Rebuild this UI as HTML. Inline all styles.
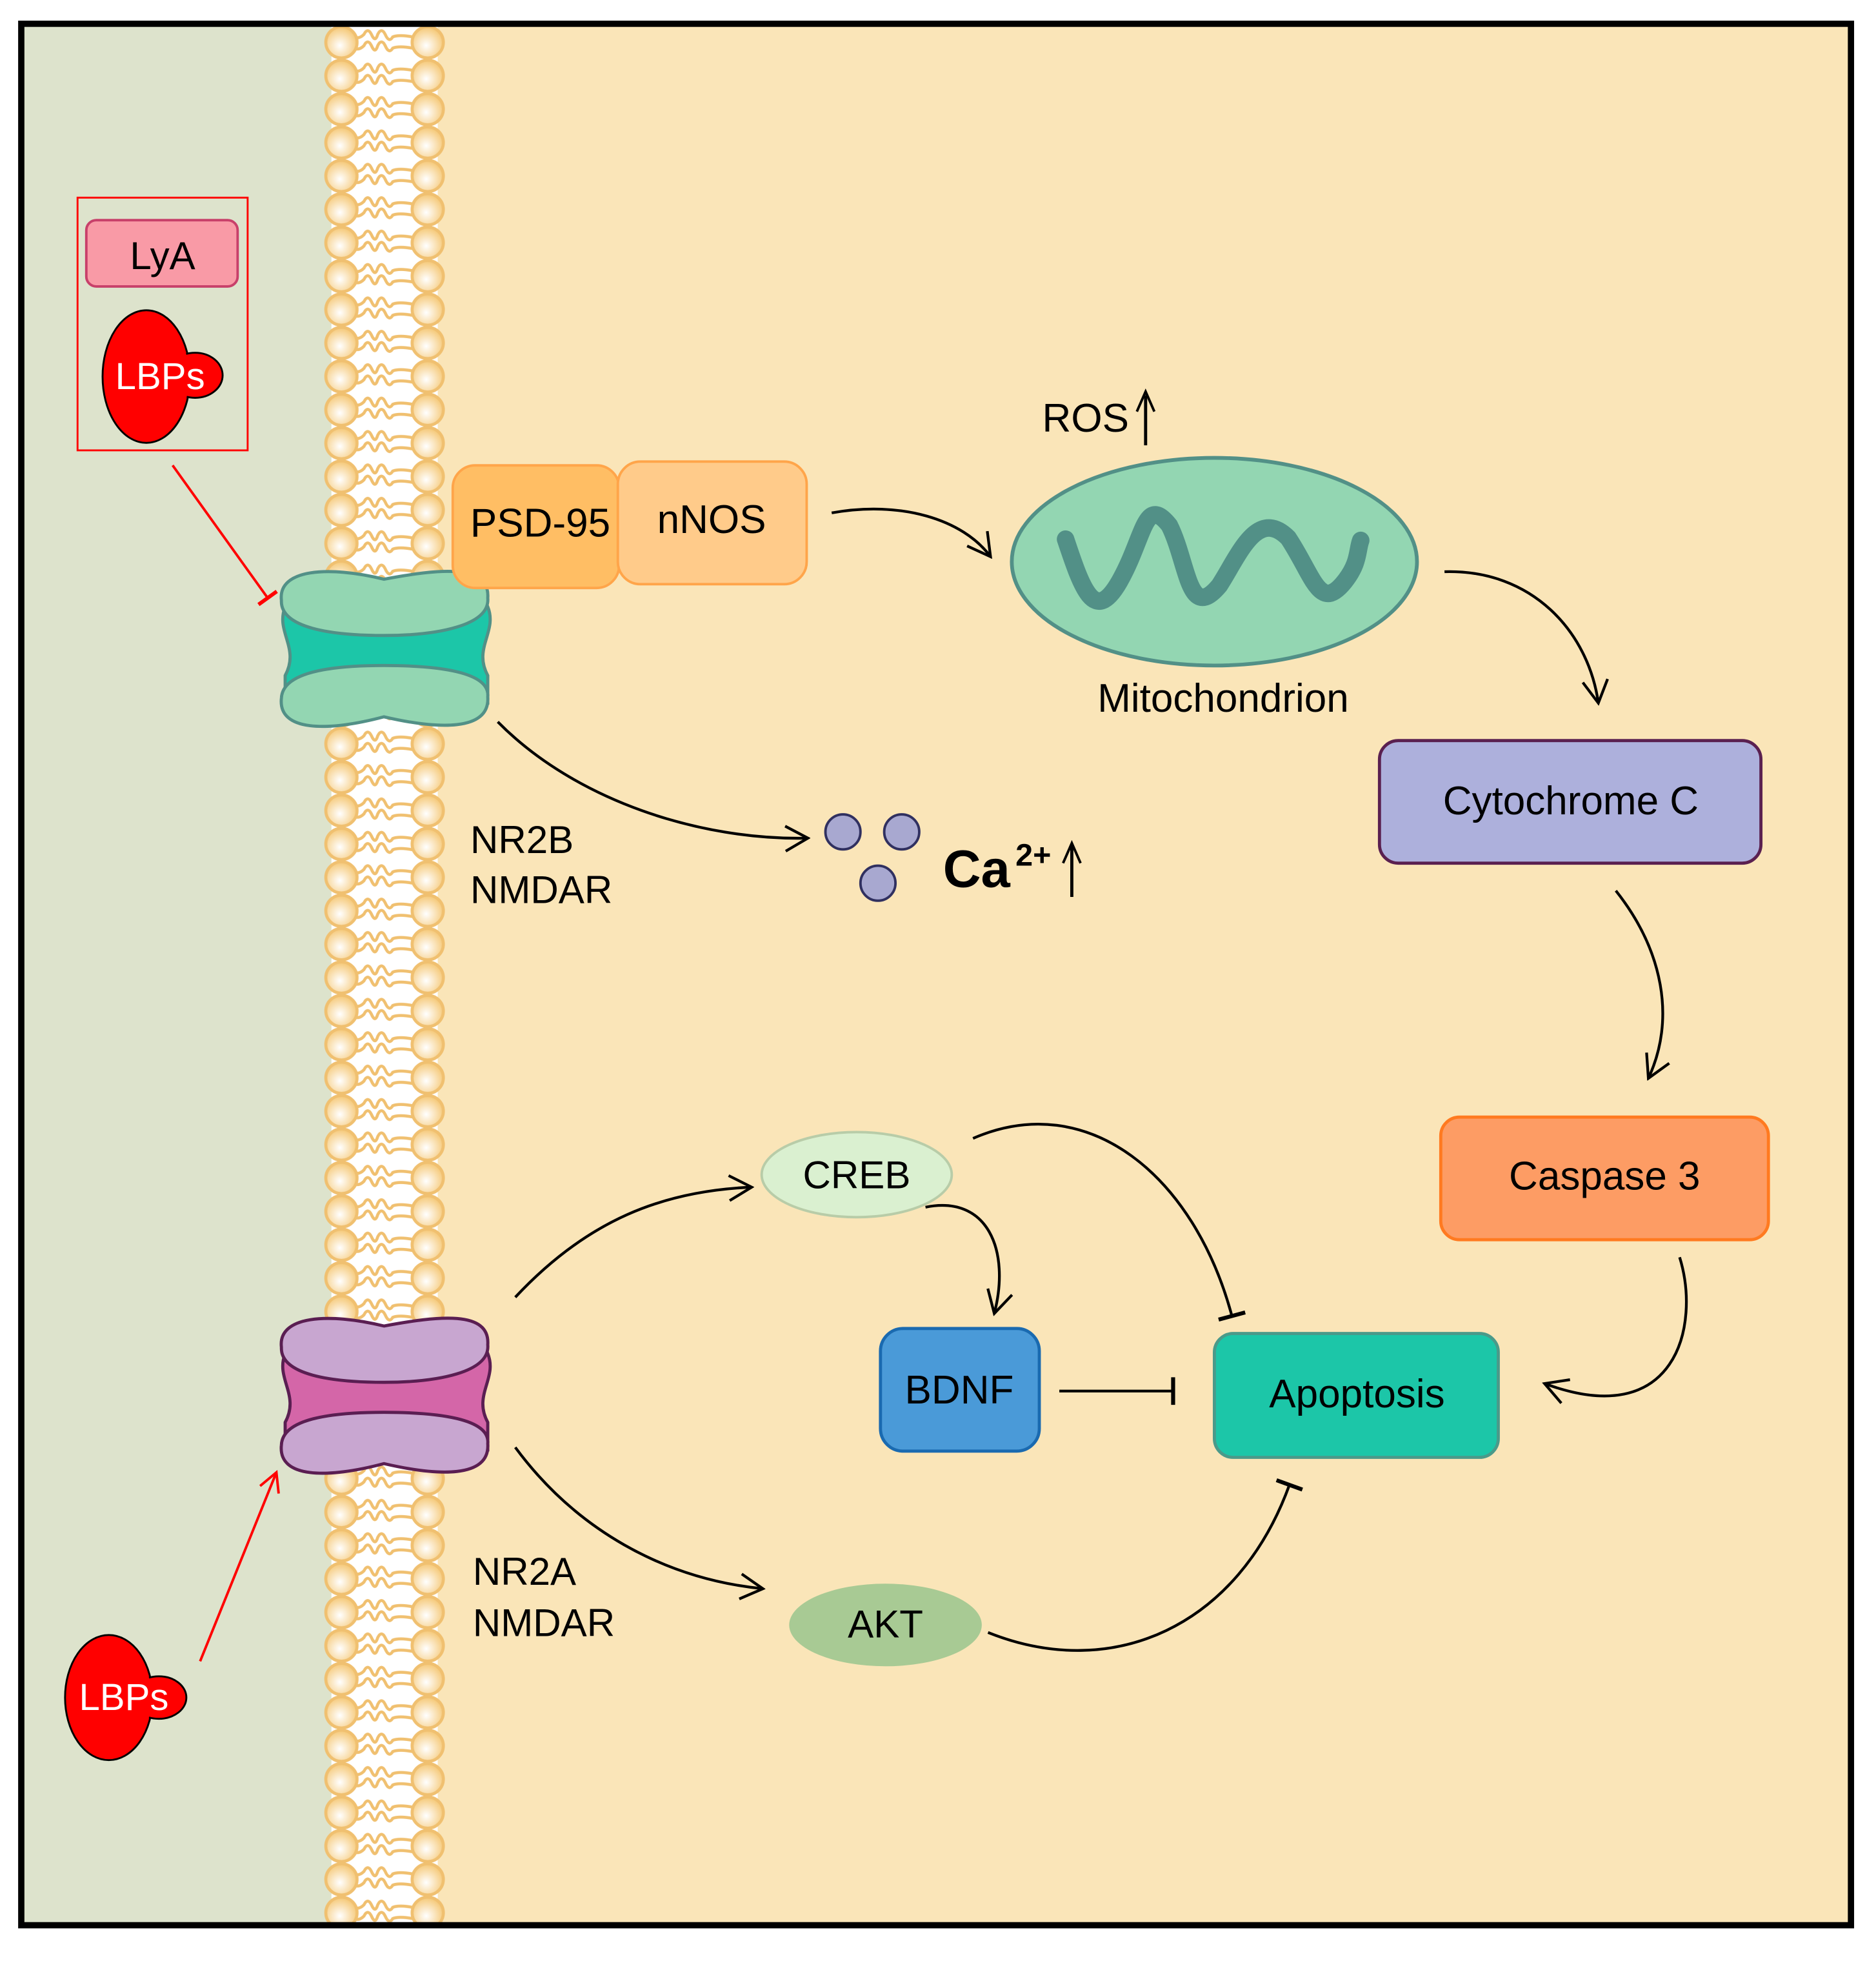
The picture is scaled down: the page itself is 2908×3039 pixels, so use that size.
<!DOCTYPE html>
<html><head><meta charset="utf-8"><style>html,body{margin:0;padding:0;background:#fff}svg{display:block}</style></head>
<body>
<svg width="2908" height="3039" viewBox="0 0 1500 1567.6" xmlns="http://www.w3.org/2000/svg" font-family="Liberation Sans, sans-serif">
<defs>
<radialGradient id="bg" cx="0.45" cy="0.6" r="0.6"><stop offset="0" stop-color="#ffffff"/><stop offset="1" stop-color="#f5c774"/></radialGradient>
<pattern id="mem" x="258" y="20.5" width="100" height="26.7" patternUnits="userSpaceOnUse">
<path d="M25,9 q4,2 8,-2 q3,-6 6,0 q3,7 5,0 q3,-6 6,0 q3,7 6,2 q5,-2 16,0" fill="none" stroke="#f0c070" stroke-width="2.4"/>
<path d="M25,18 q4,2 8,-2 q3,-6 6,0 q3,7 5,0 q3,-6 6,0 q3,7 6,2 q5,-2 16,0" fill="none" stroke="#f0c070" stroke-width="2.4"/>
<circle cx="15" cy="13.35" r="12.5" fill="url(#bg)" stroke="#f0c070" stroke-width="2.4"/>
<circle cx="84" cy="13.35" r="12.5" fill="url(#bg)" stroke="#f0c070" stroke-width="2.4"/>
</pattern>
<marker id="ar" viewBox="-20 -12 22 24" markerWidth="22" markerHeight="24" refX="0" refY="0" orient="auto" markerUnits="userSpaceOnUse"><path d="M-18,-10 L0,0 L-18,10" fill="none" stroke="#000" stroke-width="2.2"/></marker>
<marker id="arr" viewBox="-20 -12 22 24" markerWidth="22" markerHeight="24" refX="0" refY="0" orient="auto" markerUnits="userSpaceOnUse"><path d="M-15,-8 L0,0 L-15,8" fill="none" stroke="#f00" stroke-width="2"/></marker>
<marker id="tb" viewBox="-2 -12 4 24" markerWidth="4" markerHeight="24" refX="0" refY="0" orient="auto" markerUnits="userSpaceOnUse"><path d="M0,-11 L0,11" stroke="#000" stroke-width="3.2"/></marker>
<marker id="tbr" viewBox="-2 -10 4 20" markerWidth="4" markerHeight="20" refX="0" refY="0" orient="auto" markerUnits="userSpaceOnUse"><path d="M0,-9 L0,9" stroke="#f00" stroke-width="3"/></marker>
</defs>
<rect x="17" y="19" width="1463" height="1520" fill="#fae5b8"/>
<rect x="17" y="19" width="248" height="1520" fill="#dde3cc"/>
<rect x="265" y="19" width="85" height="1520" fill="#fff"/>
<rect x="258" y="21" width="100" height="1516" fill="url(#mem)"/>
<rect x="17" y="19" width="1463" height="1520" fill="none" stroke="#000" stroke-width="5"/>

<!-- receptor 1 -->
<g stroke="#529087" stroke-width="2.5">
<path d="M228,485 C220,505 240,518 228,540 L228,562 L390,562 L390,540 C378,518 398,505 390,485 Z" fill="#1cc6a8"/>
<path d="M225,480 C222,455 262,452 307,463 C350,455 392,450 390,478 C392,500 350,508 307,508 C265,508 224,502 225,480Z" fill="#93d6b2"/>
<path d="M225,558 C226,537 265,532 307,532 C350,532 392,537 390,557 C392,585 350,583 307,573 C262,585 222,585 225,558Z" fill="#93d6b2"/>
</g>
<!-- receptor 2 -->
<g stroke="#5a1e52" stroke-width="2.5">
<path d="M228,1082 C220,1102 240,1115 228,1137 L228,1159 L390,1159 L390,1137 C378,1115 398,1102 390,1082 Z" fill="#d466a8"/>
<path d="M225,1077 C222,1052 262,1049 307,1060 C350,1052 392,1047 390,1075 C392,1097 350,1105 307,1105 C265,1105 224,1099 225,1077Z" fill="#c8a6d0"/>
<path d="M225,1155 C226,1134 265,1129 307,1129 C350,1129 392,1134 390,1154 C392,1182 350,1180 307,1170 C262,1182 222,1182 225,1155Z" fill="#c8a6d0"/>
</g>

<!-- LyA/LBPs box -->
<rect x="62" y="158" width="136" height="202" fill="none" stroke="#f00" stroke-width="1.5"/>
<rect x="69" y="176" width="121" height="53" rx="8" fill="#f99aa6" stroke="#c8406a" stroke-width="2"/>
<text x="130" y="215" font-size="31" text-anchor="middle">LyA</text>
<g fill="#f00" stroke="#000" stroke-width="1.5">
<ellipse cx="117" cy="301" rx="35" ry="53"/>
<ellipse cx="156" cy="300" rx="22" ry="18"/>
<ellipse cx="117" cy="301" rx="34" ry="52" stroke="none"/>
</g>
<text x="128" y="311" font-size="30" fill="#fff" text-anchor="middle">LBPs</text>
<g fill="#f00" stroke="#000" stroke-width="1.5">
<ellipse cx="87" cy="1357" rx="35" ry="50"/>
<ellipse cx="127" cy="1357" rx="22" ry="17"/>
<ellipse cx="87" cy="1357" rx="34" ry="49" stroke="none"/>
</g>
<text x="99" y="1367" font-size="30" fill="#fff" text-anchor="middle">LBPs</text>

<line x1="138" y1="372" x2="214" y2="478" stroke="#f00" stroke-width="2" marker-end="url(#tbr)"/>
<line x1="160" y1="1328" x2="221" y2="1177" stroke="#f00" stroke-width="2" marker-end="url(#arr)"/>

<!-- PSD-95 / nNOS -->
<rect x="362" y="372" width="133" height="98" rx="18" fill="#ffbe64" stroke="#ffa54a" stroke-width="2"/>
<rect x="494" y="369" width="151" height="98" rx="18" fill="#ffcb8a" stroke="#ffa54a" stroke-width="2"/>
<text x="432" y="429" font-size="32" text-anchor="middle">PSD-95</text>
<text x="569" y="426" font-size="32" text-anchor="middle">nNOS</text>

<!-- mitochondrion -->
<ellipse cx="971" cy="449" rx="162" ry="83" fill="#93d6b2" stroke="#529087" stroke-width="3"/>
<path d="M852,431 C865,470 875,500 895,465 C915,430 915,395 935,420 C950,450 950,498 975,468 C990,445 1005,405 1030,430 C1050,460 1055,490 1075,465 C1087,450 1085,440 1088,432" fill="none" stroke="#529087" stroke-width="14" stroke-linecap="round"/>
<text x="868" y="345" font-size="32" text-anchor="middle">ROS</text>
<line x1="916" y1="356" x2="916" y2="316" stroke="#000" stroke-width="2.5"/>
<path d="M909,329 L916,313 L923,329" fill="none" stroke="#000" stroke-width="2"/>
<text x="978" y="569" font-size="32" text-anchor="middle">Mitochondrion</text>

<!-- boxes -->
<rect x="1103" y="592" width="305" height="98" rx="15" fill="#adb0dc" stroke="#5a2050" stroke-width="2.5"/>
<text x="1256" y="651" font-size="32" text-anchor="middle">Cytochrome C</text>
<rect x="1152" y="893" width="262" height="98" rx="15" fill="#fd9c64" stroke="#ff7a20" stroke-width="2.5"/>
<text x="1283" y="951" font-size="32" text-anchor="middle">Caspase 3</text>
<rect x="971" y="1066" width="227" height="99" rx="15" fill="#1cc6a8" stroke="#4a9a8a" stroke-width="2.5"/>
<text x="1085" y="1125" font-size="32" text-anchor="middle">Apoptosis</text>
<rect x="704" y="1062" width="127" height="98" rx="18" fill="#4a9ad8" stroke="#1a6ab0" stroke-width="2.5"/>
<text x="767" y="1122" font-size="32" text-anchor="middle">BDNF</text>
<ellipse cx="685" cy="939" rx="76" ry="34" fill="#daf0d0" stroke="#b8cca8" stroke-width="2"/>
<text x="685" y="950" font-size="31" text-anchor="middle">CREB</text>
<ellipse cx="708" cy="1299" rx="77" ry="33" fill="#a8ca94"/>
<text x="708" y="1309" font-size="31" text-anchor="middle">AKT</text>

<!-- Ca -->
<g fill="#a8a8d0" stroke="#303060" stroke-width="2">
<circle cx="674" cy="665" r="14"/><circle cx="721" cy="665" r="14"/><circle cx="702" cy="706" r="14"/>
</g>
<text x="754" y="709" font-size="42" font-weight="bold">Ca</text>
<text x="812" y="692" font-size="25" font-weight="bold">2+</text>
<line x1="857" y1="717" x2="857" y2="676" stroke="#000" stroke-width="2.5"/>
<path d="M850,690 L857,674 L864,690" fill="none" stroke="#000" stroke-width="2"/>

<text x="376" y="682" font-size="31">NR2B</text>
<text x="376" y="722" font-size="31">NMDAR</text>
<text x="378" y="1267" font-size="31">NR2A</text>
<text x="378" y="1308" font-size="31">NMDAR</text>

<!-- connectors -->
<g fill="none" stroke="#000" stroke-width="2.2">
<path d="M665,410 C720,400 770,415 792,445" marker-end="url(#ar)"/>
<path d="M1155,457 C1225,455 1270,505 1278,562" marker-end="url(#ar)"/>
<path d="M398,577 C460,640 560,672 646,670" marker-end="url(#ar)"/>
<path d="M1292,712 C1330,760 1340,815 1318,862" marker-end="url(#ar)"/>
<path d="M1343,1005 C1360,1060 1340,1145 1235,1106" marker-end="url(#ar)"/>
<path d="M412,1037 C470,975 530,952 601,949" marker-end="url(#ar)"/>
<path d="M740,965 C790,955 808,1000 795,1050" marker-end="url(#ar)"/>
<path d="M778,910 C870,870 955,940 985,1052" marker-end="url(#tb)"/>
<path d="M847,1112 L938,1112" marker-end="url(#tb)"/>
<path d="M412,1157 C460,1222 530,1262 610,1270" marker-end="url(#ar)"/>
<path d="M790,1305 C890,1345 990,1300 1031,1187" marker-end="url(#tb)"/>
</g>
</svg>
</body></html>
